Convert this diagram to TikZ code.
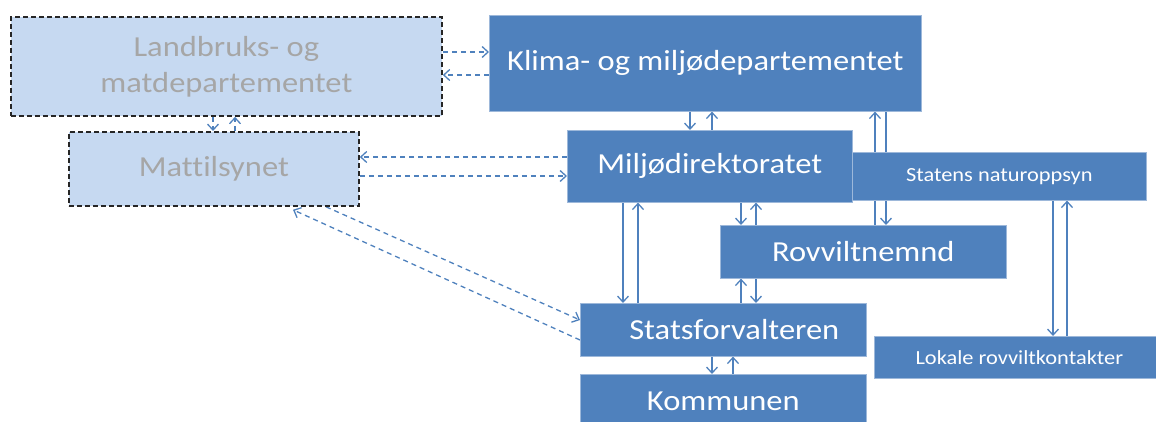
\documentclass[tikz,border=0pt]{standalone}
\usepackage{fontspec}
\setmainfont{Carlito}[FakeStretch=1.12,Ligatures=NoCommon]
\usetikzlibrary{arrows.meta,backgrounds}
\definecolor{accent}{HTML}{4F81BD}
\definecolor{lightfill}{HTML}{C6D9F1}
\definecolor{edgelight}{HTML}{9DB8DA}
\definecolor{graytext}{HTML}{A6A6A6}
\definecolor{darkedge}{HTML}{262626}
\begin{document}
\begin{tikzpicture}[x=1pt,y=-1pt,
  bluebox/.style={draw=edgelight, line width=0.6pt, fill=accent, text=white,
    anchor=north west, inner sep=0pt, font=\fontsize{29}{36}\selectfont},
  smallbox/.style={bluebox, font=\fontsize{20}{24}\selectfont},
  lightbox/.style={draw=darkedge, line width=1.8pt, dash pattern=on 5pt off 3pt,
    fill=lightfill, text=graytext, anchor=north west, inner sep=0pt, align=center,
    font=\fontsize{29}{36}\selectfont},
  arr/.style={accent, line width=1.3pt, -{Straight Barb[length=6pt,width=11pt]}},
  dasharr/.style={arr, dash pattern=on 5pt off 4pt}
]
\useasboundingbox (0,0) rectangle (1156,421);
\node[lightbox, minimum width=431pt, minimum height=99pt] (lmd) at (10,16) {Landbruks- og\\matdepartementet};
\node[lightbox, minimum width=290pt, minimum height=74pt] (matt) at (68,131) {Mattilsynet};
\node[bluebox, minimum width=432pt, minimum height=96pt] (kld) at (489,15) {Klima- og miljødepartementet};
\node[bluebox, minimum width=285pt, minimum height=72pt] (mdir) at (567,130) {Miljødirektoratet};
\node[smallbox, minimum width=294pt, minimum height=48pt] (sno) at (852,152) {Statens naturoppsyn};
\node[bluebox, minimum width=286pt, minimum height=53pt] (rovv) at (720,225) {Rovviltnemnd};
\node[bluebox, minimum width=286pt, minimum height=53pt] (sf) at (580,303) {\hspace{22pt}Statsforvalteren};
\node[bluebox, minimum width=286pt, minimum height=53pt] (komm) at (580,374) {Kommunen};
\node[smallbox, minimum width=290pt, minimum height=42pt] (lrk) at (874,336) {Lokale rovviltkontakter\hspace{6pt}};
\begin{scope}[on background layer]
  % dashed connectors
  \draw[dasharr] (lmd.east |- 0,52) -- (kld.west |- 0,52);
  \draw[dasharr] (kld.west |- 0,75) -- (lmd.east |- 0,75);
  \draw[dasharr] (lmd.south -| 213,0) -- (matt.north -| 213,0);
  \draw[dasharr] (matt.north -| 235,0) -- (lmd.south -| 235,0);
  \draw[dasharr] (mdir.west |- 0,157) -- (matt.east |- 0,157);
  \draw[dasharr] (matt.east |- 0,176) -- (mdir.west |- 0,176);
  \draw[dasharr] (matt.south -| 326,0) -- (sf.west |- 0,320);
  \draw[dasharr] (sf.west |- 0,340) -- ([yshift=-3pt]matt.south -| 293,0);
  % solid connectors
  \draw[arr] (kld.south -| 690,0) -- (mdir.north -| 690,0);
  \draw[arr] (mdir.north -| 712,0) -- (kld.south -| 712,0);
  \draw[arr] (mdir.south -| 623,0) -- (sf.north -| 623,0);
  \draw[arr] (sf.north -| 638,0) -- (mdir.south -| 638,0);
  \draw[arr] (mdir.south -| 741,0) -- (rovv.north -| 741,0);
  \draw[arr] (rovv.north -| 756,0) -- (mdir.south -| 756,0);
  \draw[arr] (rovv.south -| 756,0) -- (sf.north -| 756,0);
  \draw[arr] (sf.north -| 741,0) -- (rovv.south -| 741,0);
  \draw[arr] (sf.south -| 712,0) -- (komm.north -| 712,0);
  \draw[arr] (komm.north -| 733,0) -- (sf.south -| 733,0);
  \draw[arr] (kld.south -| 886,0) -- (rovv.north -| 886,0);
  \draw[arr] (rovv.north -| 875,0) -- (kld.south -| 875,0);
  \draw[arr] (sno.south -| 1053,0) -- (lrk.north -| 1053,0);
  \draw[arr] (lrk.north -| 1067,0) -- (sno.south -| 1067,0);
\end{scope}
\end{tikzpicture}
\end{document}
